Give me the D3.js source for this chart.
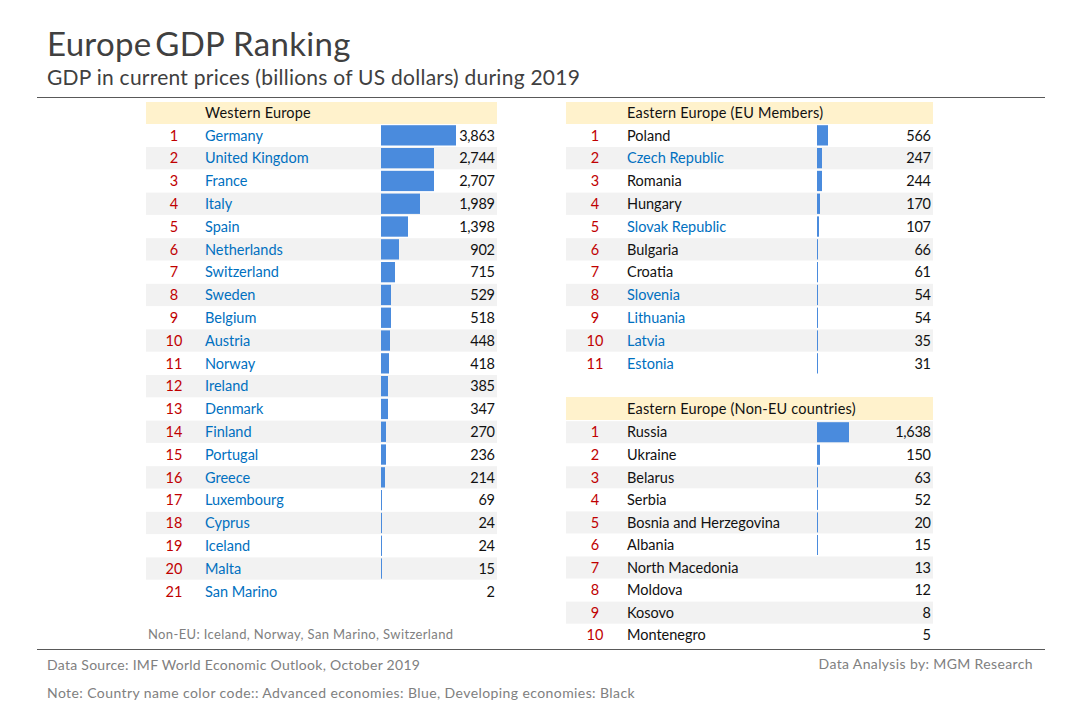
<!DOCTYPE html>
<html>
<head>
<meta charset="utf-8">
<script src="https://cdn.jsdelivr.net/npm/d3@7"></script>
<style>
  html, body { margin: 0; padding: 0; background: #fff; }
  svg { display: block; }
  text { font-family: Lato, "Open Sans", sans-serif; }
</style>
</head>
<body>
<svg id="chart" width="1080" height="720"></svg>
<script>
const westernNames = ["Germany", "United Kingdom", "France", "Italy", "Spain", "Netherlands", "Switzerland", "Sweden", "Belgium", "Austria", "Norway", "Ireland", "Denmark", "Finland", "Portugal", "Greece", "Luxembourg", "Cyprus", "Iceland", "Malta", "San Marino"];
const westernValues = [3863, 2744, 2707, 1989, 1398, 902, 715, 529, 518, 448, 418, 385, 347, 270, 236, 214, 69, 24, 24, 15, 2];

const euNames = ["Poland", "Czech Republic", "Romania", "Hungary", "Slovak Republic", "Bulgaria", "Croatia", "Slovenia", "Lithuania", "Latvia", "Estonia"];
const euValues = [566, 247, 244, 170, 107, 66, 61, 54, 54, 35, 31];

const nonEuNames = ["Russia", "Ukraine", "Belarus", "Serbia", "Bosnia and Herzegovina", "Albania", "North Macedonia", "Moldova", "Kosovo", "Montenegro"];
const nonEuValues = [1638, 150, 63, 52, 20, 15, 13, 12, 8, 5];

// advanced economies get a blue name
const advanced = [...westernNames, "Czech Republic", "Slovak Republic", "Slovenia", "Lithuania", "Latvia", "Estonia"];
// the reference stops drawing bars after these rows
const noBar = ["San Marino", "North Macedonia", "Moldova", "Kosovo", "Montenegro"];

const svg = d3.select("#chart");
const barScale = d3.scaleLinear().domain([0, 3863]).range([0, 75]);
const fmt = d3.format(",");

function drawTable(opts) {
  const { title, names, values, left, right, barX, headTop, headBottom, rowTop, rowStep, stripeOdd } = opts;
  const y = d3.scaleBand()
    .domain(names)
    .range([rowTop, rowTop + rowStep * names.length]);

  svg.append("rect")
    .attr("x", left).attr("y", headTop)
    .attr("width", right - left).attr("height", headBottom - headTop)
    .attr("fill", "#fff2cc");

  svg.append("text")
    .attr("x", left + opts.nameOffset).attr("y", (headTop + headBottom) / 2 + 5)
    .attr("font-size", 14.5).attr("fill", "#111")
    .attr("letter-spacing", 0.2)
    .text(title);

  const rows = svg.append("g").selectAll("g")
    .data(names)
    .enter().append("g")
    .attr("transform", d => `translate(0,${y(d)})`);

  rows.filter((d, i) => (i % 2 === 0) === stripeOdd)
    .append("rect")
    .attr("x", left).attr("y", 0)
    .attr("width", right - left).attr("height", y.bandwidth() - 0.5)
    .attr("fill", "#f2f2f2");

  rows.filter(d => !noBar.includes(d))
    .append("rect")
    .attr("x", barX).attr("y", 1)
    .attr("width", d => Math.max(Math.round(barScale(values[names.indexOf(d)])), 1))
    .attr("height", y.bandwidth() - 2.5)
    .attr("fill", "#4a8bdd");

  rows.append("text")
    .attr("x", left + opts.rankOffset).attr("y", y.bandwidth() / 2 + 5)
    .attr("text-anchor", "middle")
    .attr("font-size", 14.5).attr("fill", "#c00000")
    .text((d, i) => i + 1);

  rows.append("text")
    .attr("x", left + opts.nameOffset).attr("y", y.bandwidth() / 2 + 5)
    .attr("font-size", 14.5)
    .attr("fill", d => advanced.includes(d) ? "#0070c0" : "#111")
    .text(d => d);

  rows.append("text")
    .attr("x", right - 2.3).attr("y", y.bandwidth() / 2 + 5)
    .attr("text-anchor", "end")
    .attr("font-size", 14.5).attr("letter-spacing", -0.3).attr("fill", "#111")
    .text((d, i) => fmt(values[i]));
}

drawTable({ title: "Western Europe", names: westernNames, values: westernValues,
  left: 146, right: 497, barX: 381, headTop: 102, headBottom: 124,
  rowTop: 124.2, rowStep: 22.8, stripeOdd: false, rankOffset: 28, nameOffset: 59 });
drawTable({ title: "Eastern Europe (EU Members)", names: euNames, values: euValues,
  left: 566, right: 933, barX: 817, headTop: 102, headBottom: 124,
  rowTop: 124.2, rowStep: 22.8, stripeOdd: false, rankOffset: 29, nameOffset: 61 });
drawTable({ title: "Eastern Europe (Non-EU countries)", names: nonEuNames, values: nonEuValues,
  left: 566, right: 933, barX: 817, headTop: 397, headBottom: 420,
  rowTop: 421.2, rowStep: 22.55, stripeOdd: true, rankOffset: 29, nameOffset: 61 });

// titles and rules
const mainTitle = svg.append("text").attr("x", 47).attr("y", 56)
  .attr("font-size", 33).attr("fill", "#404040")
  .attr("letter-spacing", 0.3);
mainTitle.append("tspan").attr("word-spacing", -5).text("Europe ");
mainTitle.append("tspan").text("GDP Ranking");
svg.append("text").attr("x", 47).attr("y", 85)
  .attr("font-size", 21).attr("fill", "#404040")
  .attr("letter-spacing", 0.25)
  .text("GDP in current prices (billions of US dollars) during 2019");

[97.5, 649.5].forEach(ly => {
  svg.append("line").attr("x1", 37).attr("x2", 1045).attr("y1", ly).attr("y2", ly)
    .attr("stroke", "#595959").attr("stroke-width", 1);
});

svg.append("text").attr("x", 148).attr("y", 639)
  .attr("font-size", 13).attr("fill", "#808080").attr("letter-spacing", 0.37)
  .text("Non-EU: Iceland, Norway, San Marino, Switzerland");
svg.append("text").attr("x", 47).attr("y", 670)
  .attr("font-size", 14).attr("fill", "#808080").attr("letter-spacing", 0.28)
  .text("Data Source: IMF World Economic Outlook, October 2019");
svg.append("text").attr("x", 1033).attr("y", 669).attr("text-anchor", "end")
  .attr("font-size", 14).attr("fill", "#808080").attr("letter-spacing", 0.37)
  .text("Data Analysis by: MGM Research");
svg.append("text").attr("x", 47).attr("y", 698)
  .attr("font-size", 14).attr("fill", "#808080").attr("letter-spacing", 0.41)
  .text("Note: Country name color code:: Advanced economies: Blue, Developing economies: Black");
</script>
</body>
</html>
